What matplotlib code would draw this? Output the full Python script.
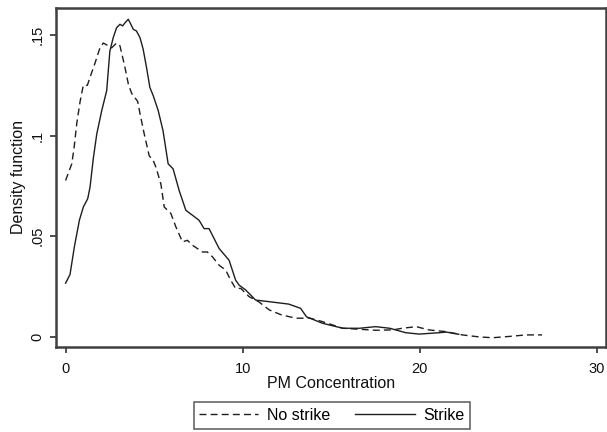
import numpy as np
import matplotlib
matplotlib.use('Agg')
import matplotlib.pyplot as plt

plt.rcParams['font.family'] = ['Liberation Sans', 'DejaVu Sans']

# density estimates
# No strike (dashed)
pm_no = [0.0, 0.35, 0.48, 0.63, 0.82, 1.0, 1.23, 1.38, 1.66, 1.94, 2.13, 2.41, 2.6, 2.88, 3.07,
         3.35, 3.54, 3.73, 3.9, 4.07, 4.2, 4.44, 4.72, 4.95, 5.1, 5.38, 5.57, 5.94, 6.23, 6.6,
         6.88, 7.17, 7.73, 8.0, 8.29, 8.67, 9.04, 9.32, 9.6, 9.89, 10.36, 10.9, 11.5, 12.2,
         13.0, 13.8, 14.5, 15.65, 16.6, 17.5, 18.5, 19.0, 19.8, 20.5, 21.5, 22.4, 23.35,
         24.1, 25.0, 26.0, 26.9]
dens_no = [0.0777, 0.086, 0.094, 0.106, 0.117, 0.125, 0.125, 0.129, 0.136, 0.1436, 0.146, 0.1446,
           0.1436, 0.146, 0.1446, 0.134, 0.1257, 0.121, 0.119, 0.117, 0.111, 0.1008, 0.090,
           0.0876, 0.0843, 0.076, 0.0645, 0.0614, 0.0546, 0.0472, 0.048, 0.0455, 0.0422,
           0.0422, 0.0398, 0.0356, 0.0332, 0.0282, 0.0241, 0.0241, 0.020, 0.0175, 0.0134,
           0.0109, 0.0093, 0.0093, 0.0076, 0.0043, 0.0038, 0.0033, 0.0035, 0.0043, 0.0051,
           0.0035, 0.0026, 0.001, 0.0, -0.0004, 0.0002, 0.001, 0.001]

# Strike (solid)
pm_st = [0.0, 0.25, 0.5, 0.78, 1.0, 1.25, 1.38, 1.57, 1.76, 2.04, 2.32, 2.5, 2.69, 2.88, 3.07,
         3.22, 3.35, 3.54, 3.73, 3.82, 4.0, 4.2, 4.38, 4.57, 4.76, 4.95, 5.23, 5.5, 5.79,
         6.07, 6.41, 6.79, 7.17, 7.54, 7.82, 8.1, 8.67, 9.23, 9.6, 9.8, 10.17, 10.73, 11.5,
         12.6, 13.27, 13.6, 14.5, 15.65, 16.6, 17.5, 18.3, 19.2, 19.97, 21.1, 21.5, 22.2]
dens_st = [0.0267, 0.031, 0.045, 0.058, 0.0645, 0.0687, 0.0744, 0.089, 0.1008, 0.1124, 0.1223,
           0.142, 0.1487, 0.1536, 0.1553, 0.1545, 0.156, 0.1578, 0.1545, 0.1528, 0.152, 0.1487,
           0.1429, 0.1338, 0.1239, 0.1198, 0.1124, 0.1025, 0.086, 0.0835, 0.0728, 0.0629,
           0.0604, 0.0579, 0.0538, 0.0538, 0.0439, 0.0381, 0.0282, 0.0257, 0.0233, 0.0183,
           0.0175, 0.0163, 0.0142, 0.010, 0.0068, 0.0043, 0.0043, 0.0051, 0.0043, 0.0021,
           0.0014, 0.0021, 0.0024, 0.0013]

xticks = [0, 10, 20, 30]
yticks = [0, 0.05, 0.1, 0.15]
ylabels = ['0', '.05', '.1', '.15']

fig = plt.figure(figsize=(6.07, 4.32), dpi=100)
ax = fig.add_axes([0.0923, 0.1968, 0.9057, 0.7847])

ax.plot(pm_no, dens_no, color='#1e1e1e', lw=1.0, linestyle=(0, (5, 3)), label='No strike')
ax.plot(pm_st, dens_st, color='#1e1e1e', lw=1.0, label='Strike')

ax.set_xlim(-0.54, 30.5)
ax.set_ylim(-0.005, 0.1634)
ax.set_xticks(xticks)
ax.set_yticks(yticks)
ax.set_yticklabels(ylabels, rotation=90, va='center')
ax.tick_params(direction='out', length=4.5, width=1.2, color='#303030',
               labelsize=10.5, labelcolor='#111111')
ax.tick_params(axis='x', pad=6)
ax.tick_params(axis='y', pad=4)
for s in ax.spines.values():
    s.set_linewidth(1.8)
    s.set_color('#404040')

ax.set_xlabel('PM Concentration', fontsize=11.5, color='#111111', labelpad=0)
ax.set_ylabel('Density function', fontsize=11.5, color='#111111', labelpad=3)

leg = fig.legend(loc='center', bbox_to_anchor=(0.547, 0.038), ncol=2, fontsize=11.5,
                 frameon=True, fancybox=False, edgecolor='#404040', handlelength=3.7,
                 handletextpad=0.57, columnspacing=1.55, borderpad=0.35)
leg.get_frame().set_linewidth(1.2)

fig.savefig('out.png', dpi=100)
